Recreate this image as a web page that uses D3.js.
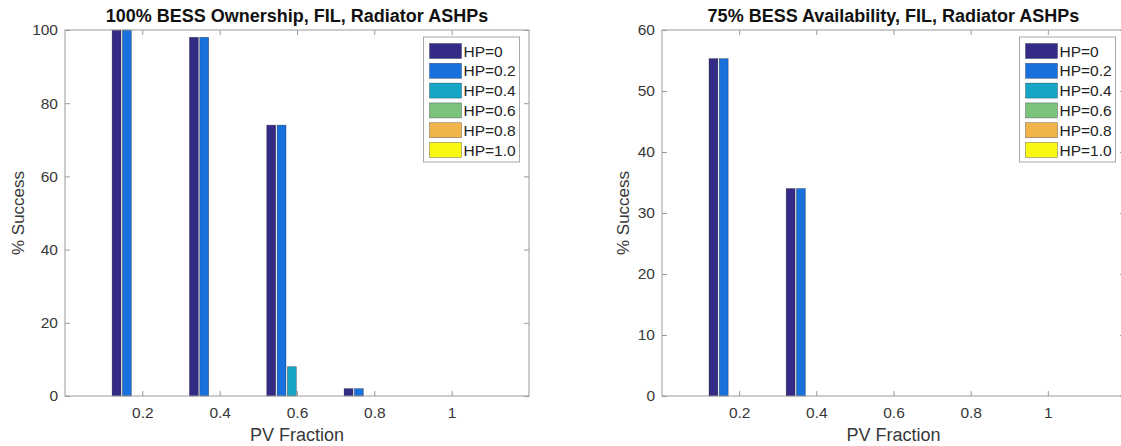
<!DOCTYPE html>
<html>
<head>
<meta charset="utf-8">
<script src="https://cdn.jsdelivr.net/npm/d3@7"></script>
<style>
  body { margin: 0; background: #fff; }
  svg { display: block; font-family: "Liberation Sans", Arial, sans-serif; }
</style>
</head>
<body>
<svg id="chart" width="1121" height="446"></svg>
<script>
// ---- Data ----
const pvFractions = [0.2, 0.4, 0.6, 0.8, 1.0];
const hpLabels = ["HP=0", "HP=0.2", "HP=0.4", "HP=0.6", "HP=0.8", "HP=1.0"];
const hpColors = ["#332b85", "#1770dc", "#14a6c4", "#7cc47c", "#f0b448", "#f8f812"];
const xTicks = [0.2, 0.4, 0.6, 0.8, 1];

// Left chart: 100% BESS Ownership (one array per HP level, values per PV fraction)
const ownHP0  = [100, 98, 74, 2, 0];
const ownHP02 = [100, 98, 74, 2, 0];
const ownHP04 = [0, 0, 8, 0, 0];
const ownHP06 = [0, 0, 0, 0, 0];
const ownHP08 = [0, 0, 0, 0, 0];
const ownHP10 = [0, 0, 0, 0, 0];
const ownYTicks = [0, 20, 40, 60, 80, 100];

// Right chart: 75% BESS Availability
const availHP0  = [55.3, 34, 0, 0, 0];
const availHP02 = [55.3, 34, 0, 0, 0];
const availHP04 = [0, 0, 0, 0, 0];
const availHP06 = [0, 0, 0, 0, 0];
const availHP08 = [0, 0, 0, 0, 0];
const availHP10 = [0, 0, 0, 0, 0];
const availYTicks = [0, 10, 20, 30, 40, 50, 60];

const svg = d3.select("#chart");

function drawChart(opts) {
  const { left, right, top, bottom, title, series, yMax, yTicks, yLabelX } = opts;
  const g = svg.append("g");
  const x = d3.scaleLinear().domain([0, 1.2]).range([left, right]);
  const y = d3.scaleLinear().domain([0, yMax]).range([bottom, top]);

  const clipId = "clip" + Math.round(left);
  g.append("clipPath").attr("id", clipId)
    .append("rect").attr("x", left).attr("y", top - 1).attr("width", right - left).attr("height", bottom - top + 2);

  // bars
  const nb = series.length;
  const groupW = 0.8 * 0.2;
  const slot = groupW / nb;
  const barFrac = 0.86;
  const bars = g.append("g").attr("clip-path", `url(#${clipId})`);
  series.forEach((vals, i) => {
    bars.selectAll(null).data(vals.map((v, j) => ({ v, pv: pvFractions[j] })))
      .enter().append("rect")
      .attr("x", d => x(d.pv - groupW / 2 + (i + 0.5) * slot - slot * barFrac / 2))
      .attr("width", d => x(slot * barFrac) - x(0))
      .attr("y", d => y(d.v))
      .attr("height", d => y(0) - y(d.v))
      .attr("fill", hpColors[i])
      .attr("stroke", "rgba(20,20,40,0.55)")
      .attr("stroke-width", 0.6);
  });

  const axisColor = "#9a9a9a";
  const textColor = "#383838";
  const fmtX = d => d === 1 ? "1" : d3.format(".1f")(d);

  const ax = [
    g.append("g").attr("transform", `translate(0,${bottom})`)
      .call(d3.axisBottom(x).tickValues(xTicks).tickFormat(fmtX).tickSizeInner(-5).tickSizeOuter(0).tickPadding(11)),
    g.append("g").attr("transform", `translate(0,${top})`)
      .call(d3.axisTop(x).tickValues(xTicks).tickFormat("").tickSizeInner(-5).tickSizeOuter(0)),
    g.append("g").attr("transform", `translate(${left},0)`)
      .call(d3.axisLeft(y).tickValues(yTicks).tickSizeInner(-5).tickSizeOuter(0).tickPadding(7)),
    g.append("g").attr("transform", `translate(${right},0)`)
      .call(d3.axisRight(y).tickValues(yTicks).tickFormat("").tickSizeInner(-5).tickSizeOuter(0))
  ];
  ax.forEach(a => {
    a.select(".domain").remove();
    a.selectAll(".tick line").attr("stroke", axisColor);
    a.selectAll(".tick text").attr("fill", textColor).style("font-size", "15.5px")
      .style("font-family", "Liberation Sans, Arial, sans-serif");
  });

  // box
  g.append("rect").attr("x", left).attr("y", top).attr("width", right - left).attr("height", bottom - top)
    .attr("fill", "none").attr("stroke", axisColor).attr("stroke-width", 1);

  // title
  g.append("text").attr("x", (left + right) / 2).attr("y", 22).attr("text-anchor", "middle")
    .style("font-size", "18px").style("font-weight", "bold").attr("fill", "#111").text(title);

  // x label
  g.append("text").attr("x", (left + right) / 2).attr("y", 441).attr("text-anchor", "middle")
    .style("font-size", "18px").attr("fill", textColor).text("PV Fraction");

  // y label
  g.append("text").attr("transform", `translate(${yLabelX},${(top + bottom) / 2}) rotate(-90)`)
    .attr("text-anchor", "middle").style("font-size", "17px").attr("fill", textColor).text("% Success");

  // legend
  const lw = 96, lh = 125;
  const lx = Math.min(right, 1125) - 9.5 - lw, ly = 37;
  const leg = g.append("g");
  leg.append("rect").attr("x", lx).attr("y", ly).attr("width", lw).attr("height", lh)
    .attr("fill", "#fff").attr("stroke", "#a8a8a8").attr("stroke-width", 1);
  hpLabels.forEach((lab, i) => {
    const cy = ly + 14 + i * 19.8;
    leg.append("rect").attr("x", lx + 6).attr("y", cy - 7.5).attr("width", 32).attr("height", 15)
      .attr("fill", hpColors[i]).attr("stroke", "rgba(20,20,40,0.5)").attr("stroke-width", 0.6);
    leg.append("text").attr("x", lx + 40).attr("y", cy + 5.5).style("font-size", "15.5px")
      .attr("fill", "#222").text(lab);
  });
}

drawChart({
  left: 65, right: 529, top: 30, bottom: 396,
  title: "100% BESS Ownership, FIL, Radiator ASHPs",
  series: [ownHP0, ownHP02, ownHP04, ownHP06, ownHP08, ownHP10],
  yMax: 100, yTicks: ownYTicks, yLabelX: 24
});
drawChart({
  left: 662, right: 1125, top: 30, bottom: 396,
  title: "75% BESS Availability, FIL, Radiator ASHPs",
  series: [availHP0, availHP02, availHP04, availHP06, availHP08, availHP10],
  yMax: 60, yTicks: availYTicks, yLabelX: 629
});
</script>
</body>
</html>
